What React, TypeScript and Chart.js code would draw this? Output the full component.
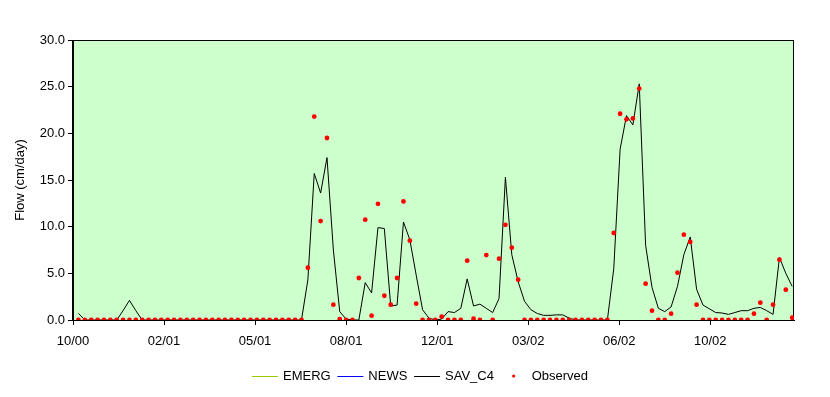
import React, { useEffect, useRef } from 'react';
import { Chart, registerables } from 'chart.js';

Chart.register(...registerables);

// ---- data ----
const X_TICK_LABELS = ['10/00', '02/01', '05/01', '08/01', '12/01', '03/02', '06/02', '10/02'];
const TICK_STEP_DAYS = 100;
const FIRST_SAMPLE_DAY = 6;
const SAMPLE_STEP_DAYS = 7;
const AXIS_MAX_DAY = 792;

const Y_MIN = 0;
const Y_MAX = 30;
const Y_STEP = 5;

const SAV_C4: number[] = [
  0.7, 0, 0, 0, 0, 0, 0, 1.0, 2.1, 1.0,
  0, 0, 0, 0, 0, 0, 0, 0, 0, 0,
  0, 0, 0, 0, 0, 0, 0, 0, 0, 0,
  0, 0, 0, 0, 0, 0,
  4.3, 15.7, 13.6, 17.4,
  7.5, 0.9, 0.1, 0, 0, 4.0, 2.9, 9.9, 9.8, 1.5,
  1.6, 10.5, 8.6, 4.8, 1.1, 0.2, 0, 0.1, 0.9, 0.8,
  1.25, 4.4, 1.5, 1.7, 1.25, 0.8, 2.3, 15.3, 7.0, 4.1,
  2.0, 1.1, 0.7, 0.5, 0.5, 0.55, 0.55, 0.2, 0, 0,
  0, 0, 0, 0, 5.5, 18.3, 21.9, 20.9, 25.3, 8.0,
  3.5, 1.25, 0.9, 1.4, 3.6, 7.0, 8.9, 3.3, 1.6, 1.2,
  0.8, 0.75, 0.6, 0.8, 1.0, 1.0, 1.25, 1.35, 1.0, 0.6,
  6.7, 5.0, 3.6,
];

const OBSERVED: number[] = [
  0, 0, 0, 0, 0, 0, 0, 0, 0, 0,
  0, 0, 0, 0, 0, 0, 0, 0, 0, 0,
  0, 0, 0, 0, 0, 0, 0, 0, 0, 0,
  0, 0, 0, 0, 0, 0,
  5.6, 21.8, 10.6, 19.5,
  1.64, 0.1, 0, 0, 4.5, 10.75, 0.46, 12.45, 2.6, 1.64,
  4.5, 12.7, 8.5, 1.75, 0, 0, 0, 0.36, 0, 0,
  0, 6.36, 0.14, 0, 6.96, 0, 6.57, 10.2, 7.75, 4.32,
  0, 0, 0, 0, 0, 0, 0, 0, 0, 0,
  0, 0, 0, 0, 9.32, 22.1, 21.5, 21.6, 24.8, 3.89,
  1.0, 0, 0, 0.68, 5.07, 9.14, 8.36, 1.64, 0, 0,
  0, 0, 0, 0, 0, 0, 0.68, 1.86, 0, 1.64,
  6.46, 3.25, 0.25,
];

// EMERG and NEWS appear only in the legend (no visible trace in the chart)
const EMERG: number[] = [];
const NEWS: number[] = [];

const FONT_FAMILY = '"Liberation Sans", Arial, Helvetica, sans-serif';

const toPoints = (arr: number[]) =>
  arr.map((v, i) => ({ x: FIRST_SAMPLE_DAY + SAMPLE_STEP_DAYS * i, y: v }));

const plotBgPlugin = {
  id: 'plotBg',
  beforeDraw(chart: any) {
    const { ctx, chartArea } = chart;
    ctx.save();
    ctx.fillStyle = '#CCFFCC';
    ctx.fillRect(chartArea.left, chartArea.top, chartArea.right - chartArea.left, chartArea.bottom - chartArea.top);
    ctx.strokeStyle = '#000000';
    ctx.lineWidth = 1;
    ctx.strokeRect(
      Math.round(chartArea.left) - 0.5,
      Math.round(chartArea.top) + 0.5,
      Math.round(chartArea.right) - Math.round(chartArea.left),
      Math.round(chartArea.bottom) - Math.round(chartArea.top)
    );
    ctx.restore();
  },
};

const legendPlugin = {
  id: 'excelLegend',
  afterDraw(chart: any) {
    const ctx = chart.ctx;
    ctx.save();
    ctx.font = `13px ${FONT_FAMILY}`;
    ctx.textBaseline = 'middle';
    ctx.textAlign = 'left';
    let x = 252;
    const y = 376;
    chart.data.datasets.forEach((ds: any) => {
      if (ds.showLine === false) {
        ctx.fillStyle = ds.pointBackgroundColor;
        ctx.beginPath();
        ctx.arc(x + 13, y, 1.6, 0, Math.PI * 2);
        ctx.fill();
      } else {
        ctx.strokeStyle = ds.borderColor;
        ctx.lineWidth = 1;
        ctx.beginPath();
        ctx.moveTo(x, y + 0.5);
        ctx.lineTo(x + 26, y + 0.5);
        ctx.stroke();
      }
      x += 31;
      ctx.fillStyle = '#000000';
      ctx.fillText(ds.label, x, y);
      x += ctx.measureText(ds.label).width + 6.7;
    });
    ctx.restore();
  },
};

export default function App() {
  const canvasRef = useRef<HTMLCanvasElement | null>(null);

  useEffect(() => {
    document.body.style.margin = '0';
    const canvas = canvasRef.current;
    if (!canvas) return;
    const font = { family: FONT_FAMILY, size: 13 };
    const chart = new Chart(canvas, {
      type: 'line',
      data: {
        datasets: [
          {
            label: 'EMERG',
            data: toPoints(EMERG),
            borderColor: '#99CC00',
            borderWidth: 1,
            pointRadius: 0,
            fill: false,
            order: 3,
          },
          {
            label: 'NEWS',
            data: toPoints(NEWS),
            borderColor: '#0000FF',
            borderWidth: 1,
            pointRadius: 0,
            fill: false,
            order: 2,
          },
          {
            label: 'SAV_C4',
            data: toPoints(SAV_C4),
            borderColor: '#000000',
            borderWidth: 1,
            pointRadius: 0,
            tension: 0,
            fill: false,
            order: 1,
          },
          {
            label: 'Observed',
            data: toPoints(OBSERVED),
            showLine: false,
            borderColor: '#FF0000',
            pointBackgroundColor: '#FF0000',
            pointBorderWidth: 0,
            pointRadius: 2.4,
            pointStyle: 'circle',
            order: 0,
          },
        ] as any,
      },
      options: {
        responsive: false,
        animation: false,
        devicePixelRatio: 1,
        layout: { padding: { left: 0, top: 40, right: 36, bottom: 0 } },
        plugins: {
          legend: { display: false },
          tooltip: { enabled: false },
        },
        scales: {
          x: {
            type: 'linear',
            min: 0,
            max: AXIS_MAX_DAY,
            afterBuildTicks: (scale: any) => {
              scale.ticks = X_TICK_LABELS.map((_, k) => ({ value: k * TICK_STEP_DAYS }));
            },
            afterFit: (scale: any) => {
              scale.height = 77;
            },
            ticks: {
              autoSkip: false,
              maxRotation: 0,
              padding: 9,
              color: '#000000',
              font,
              callback: (_v: any, idx: number) => X_TICK_LABELS[idx],
            },
            grid: {
              display: true,
              drawOnChartArea: false,
              drawTicks: true,
              tickLength: 5,
              color: '#000000',
            },
            border: { display: true, color: '#000000', width: 1 },
          },
          y: {
            min: Y_MIN,
            max: Y_MAX,
            afterFit: (scale: any) => {
              scale.width = 73;
            },
            ticks: {
              stepSize: Y_STEP,
              padding: 3,
              color: '#000000',
              font,
              callback: (v: any) => Number(v).toFixed(1),
            },
            grid: {
              display: true,
              drawOnChartArea: false,
              drawTicks: true,
              tickLength: 5,
              color: '#000000',
            },
            border: { display: true, color: '#000000', width: 1 },
            title: {
              display: true,
              text: 'Flow (cm/day)',
              color: '#000000',
              font,
              padding: { top: 13, bottom: 0 },
            },
          },
        },
      },
      plugins: [plotBgPlugin, legendPlugin],
    } as any);
    return () => chart.destroy();
  }, []);

  return (
    <div style={{ width: 830, height: 397, background: '#ffffff' }}>
      <canvas ref={canvasRef} width={830} height={397} style={{ display: 'block' }} />
    </div>
  );
}
